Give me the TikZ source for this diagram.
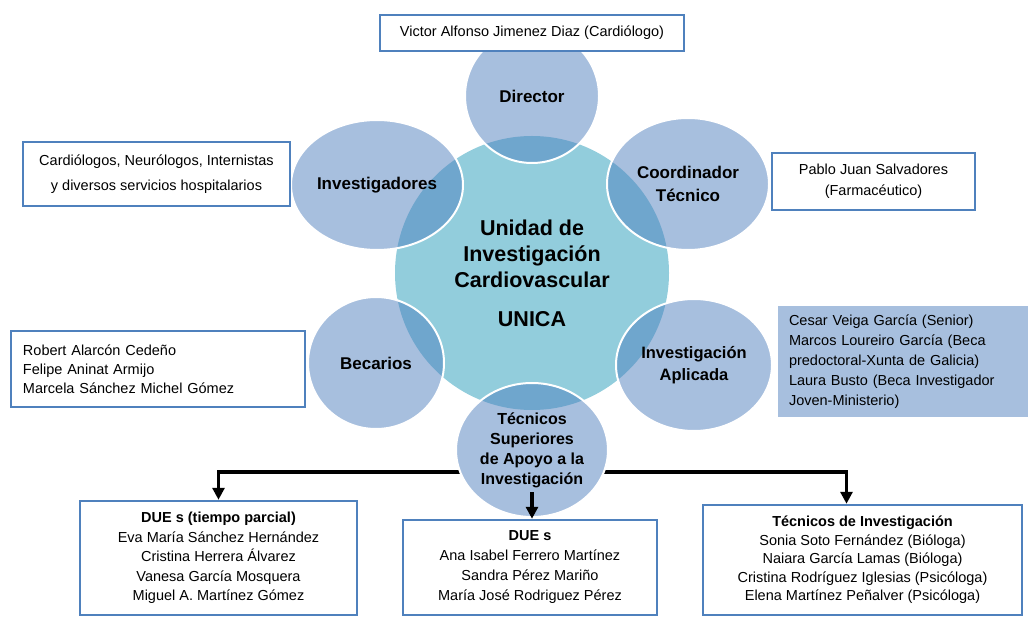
\documentclass[tikz,border=0pt]{standalone}
\usepackage{fontspec}
\setmainfont{Liberation Sans}
\usetikzlibrary{shapes.geometric,arrows.meta}
\definecolor{satblue}{HTML}{A7BFDE}
\definecolor{ctrcyan}{HTML}{92CDDC}
\definecolor{ovl}{HTML}{6FA6CD}
\definecolor{boxblue}{HTML}{4F81BD}
\begin{document}
\begin{tikzpicture}[x=1pt,y=-1pt,
  sat/.style={ellipse, fill=satblue, draw=white, line width=2pt, inner sep=0pt, align=center,
    font=\bfseries\fontsize{17}{23}\selectfont,
    path picture={\fill[ovl] (ctr.center) circle[radius=137];}},
  ctrc/.style={circle, fill=ctrcyan, inner sep=0pt, minimum size=274pt, align=center,
    font=\bfseries\fontsize{21.5}{26}\selectfont},
  box/.style={draw=boxblue, line width=2.5pt, fill=white, inner sep=0pt, align=center,
    font=\fontsize{14.5}{19}\selectfont},
  sidebox/.style={fill=satblue, inner sep=0pt, align=left, font=\fontsize{14.5}{20}\selectfont},
  arr/.style={line width=3.2pt, -{Triangle[length=12pt,width=12pt]}},
]
\useasboundingbox (0,0) rectangle (1028,617);

% bottom boxes
\node[box, minimum width=277pt, minimum height=114pt, font=\fontsize{14.5}{19.5}\selectfont] (due1) at (218.5,558)
  {\textbf{DUE s (tiempo parcial)}\\Eva María Sánchez Hernández\\Cristina Herrera Álvarez\\Vanesa García Mosquera\\Miguel A. Martínez Gómez};
\node[box, minimum width=254pt, minimum height=95pt, font=\fontsize{14.5}{20}\selectfont] (due2) at (530,567.5)
  {\textbf{DUE s}\\Ana Isabel Ferrero Martínez\\Sandra Pérez Mariño\\María José Rodriguez Pérez};
\node[box, minimum width=319pt, minimum height=110pt, font=\fontsize{14.5}{18.5}\selectfont] (tec3) at (862.5,560)
  {\textbf{Técnicos de Investigación}\\Sonia Soto Fernández (Bióloga)\\Naiara García Lamas (Bióloga)\\Cristina Rodríguez Iglesias (Psicóloga)\\Elena Martínez Peñalver (Psicóloga)};

% connectors under the circles
\coordinate (hub) at (532,472);
\draw[arr] (hub) -| (due1.north);
\draw[arr] (hub) -| ([xshift=-16pt]tec3.north);

% centre
\node[ctrc] (ctr) at (532,273) {Unidad de\\Investigación\\Cardiovascular\\[13pt]UNICA};

% satellites
\node[sat, minimum width=134pt, minimum height=134pt] (dir) at (532,96) {Director};
\node[sat, minimum width=172pt, minimum height=130pt] (inv) at (377,185) {Investigadores};
\node[sat, minimum width=162pt, minimum height=132pt] (coo) at (688,184) {Coordinador\\Técnico};
\node[sat, minimum width=136pt, minimum height=132pt] (bec) at (376,363) {Becarios};
\node[sat, minimum width=156pt, minimum height=132pt, font=\bfseries\fontsize{16.5}{22}\selectfont] (apl) at (694,365) {Investigación\\Aplicada};
\node[sat, minimum width=152pt, minimum height=134pt, font=\bfseries\fontsize{16}{20}\selectfont] (tec) at (532,450)
  {\\[-8pt]Técnicos\\Superiores\\de Apoyo a la\\Investigación};

% middle arrow
\coordinate (m1) at (532,492);
\draw[arr] (m1) -- (m1 |- due2.north);

% side boxes
\node[box, minimum width=304pt, minimum height=36pt] (vic) at (532,33)
  {Victor Alfonso Jimenez Diaz (Cardiólogo)};
\node[box, minimum width=267pt, minimum height=64pt, font=\fontsize{14.5}{25}\selectfont] (car) at (156.5,174)
  {Cardiólogos, Neurólogos, Internistas\\y diversos servicios hospitalarios};
\node[box, minimum width=203pt, minimum height=57pt, font=\fontsize{14.5}{21}\selectfont] (pab) at (873.5,181.5)
  {Pablo Juan Salvadores\\(Farmacéutico)};
\node[box, minimum width=294pt, minimum height=76pt, align=left, text width=270pt] (rob) at (158,369)
  {Robert Alarcón Cedeño\\Felipe Aninat Armijo\\Marcela Sánchez Michel Gómez};
\node[sidebox, minimum width=250pt, minimum height=111pt, text width=228pt] (ces) at (903,361.5)
  {Cesar Veiga García (Senior)\\Marcos Loureiro García (Beca\\predoctoral-Xunta de Galicia)\\Laura Busto (Beca Investigador\\Joven-Ministerio)};
\end{tikzpicture}
\end{document}
